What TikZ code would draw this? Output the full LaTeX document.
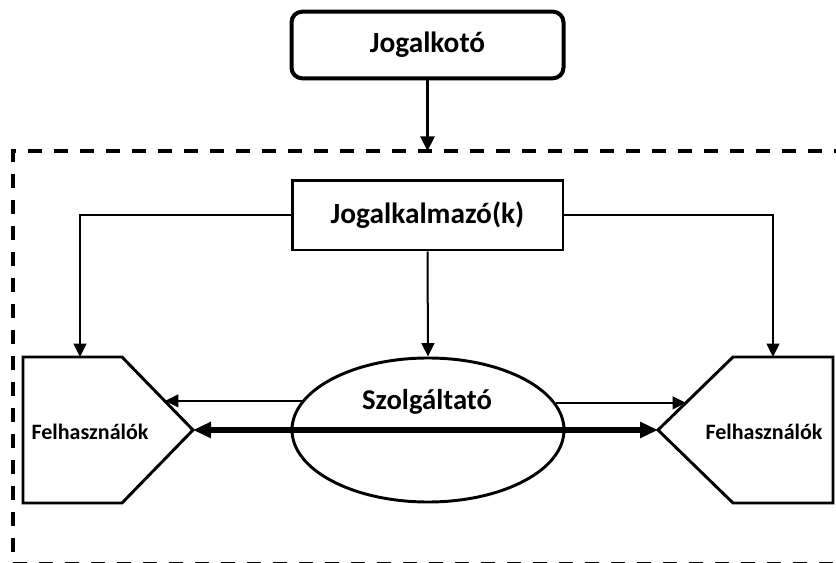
\documentclass[tikz,border=0pt]{standalone}
\usepackage{fontspec}
\setmainfont{Carlito}
\usetikzlibrary{arrows.meta,shapes.geometric}
\begin{document}
\begin{tikzpicture}[x=0.75pt,y=-0.75pt,
  lbl/.style={font=\bfseries\fontsize{22}{24}\selectfont, inner sep=0pt},
  midlbl/.style={font=\bfseries\fontsize{21.5}{24}\selectfont, inner sep=0pt},
  smalllbl/.style={font=\bfseries\fontsize{16.5}{18}\selectfont, inner sep=0pt},
  thinarrow/.style={line width=1.5pt,-{Triangle[length=10pt,width=9.5pt]}},
  thickarrow/.style={line width=3.8pt,{Triangle[length=13.5pt,width=11.5pt]}-{Triangle[length=13.5pt,width=11.5pt]}},
  toparrow/.style={line width=2.2pt,-{Triangle[length=11pt,width=10.5pt]}},
  dashframe/.style={line width=2.6pt,dash pattern=on 10.5pt off 9pt},
  usershape/.style={line width=2.2pt,line join=miter}
]
\useasboundingbox (0,0) rectangle (836,563);

% dashed frame
\draw[dashframe] (900,151) -- (13,151) -- (13,564) -- (900,564);

% top box
\node[draw, line width=3pt, rounded corners=8pt, minimum width=204pt, minimum height=50pt, lbl] (jt) at (427.5,45) {Jogalkotó};
\coordinate (framein) at (427.5,151);
\draw[toparrow] (jt.south) -- (framein);

% middle box
\node[draw, line width=2pt, minimum width=203pt, minimum height=52pt, lbl] (jk) at (427.5,215.5) {Jogalkalmazó(k)};

% user shapes
\draw[usershape] (23,357) -- (122,357) -- (193,430) -- (122,503) -- (23,503) -- cycle;
\draw[usershape] (833,357) -- (733,357) -- (658,430) -- (733,503) -- (833,503) -- cycle;
\node[smalllbl] (fl) at (90,432) {Felhasználók};
\node[smalllbl] (fr) at (764,432) {Felhasználók};
\coordinate (Ltop) at (80,357);
\coordinate (Rtop) at (773,357);
\coordinate (Ltip) at (193,430);
\coordinate (Rtip) at (658,430);
\coordinate (Ledge) at (165,401);
\coordinate (Redge) at (686,403);

% provider ellipse
\node[draw, ellipse, line width=2.2pt, minimum width=204pt, minimum height=108pt, inner sep=0pt] (sz) at (428,430) {};
\node[midlbl] (szt) at (427,402) {Szolgáltató};

% connectors
\draw[thinarrow] (jk.west) -| (Ltop);
\draw[thinarrow] (jk.east) -| (Rtop);
\draw[thinarrow] (jk.south) -- (sz.north);
\draw[thinarrow] (sz.167) -- (sz.167 -| Ledge);
\draw[thinarrow] (sz.12) -- (sz.12 -| Redge);
\draw[thickarrow] (Ltip) -- (Rtip);
\end{tikzpicture}
\end{document}
